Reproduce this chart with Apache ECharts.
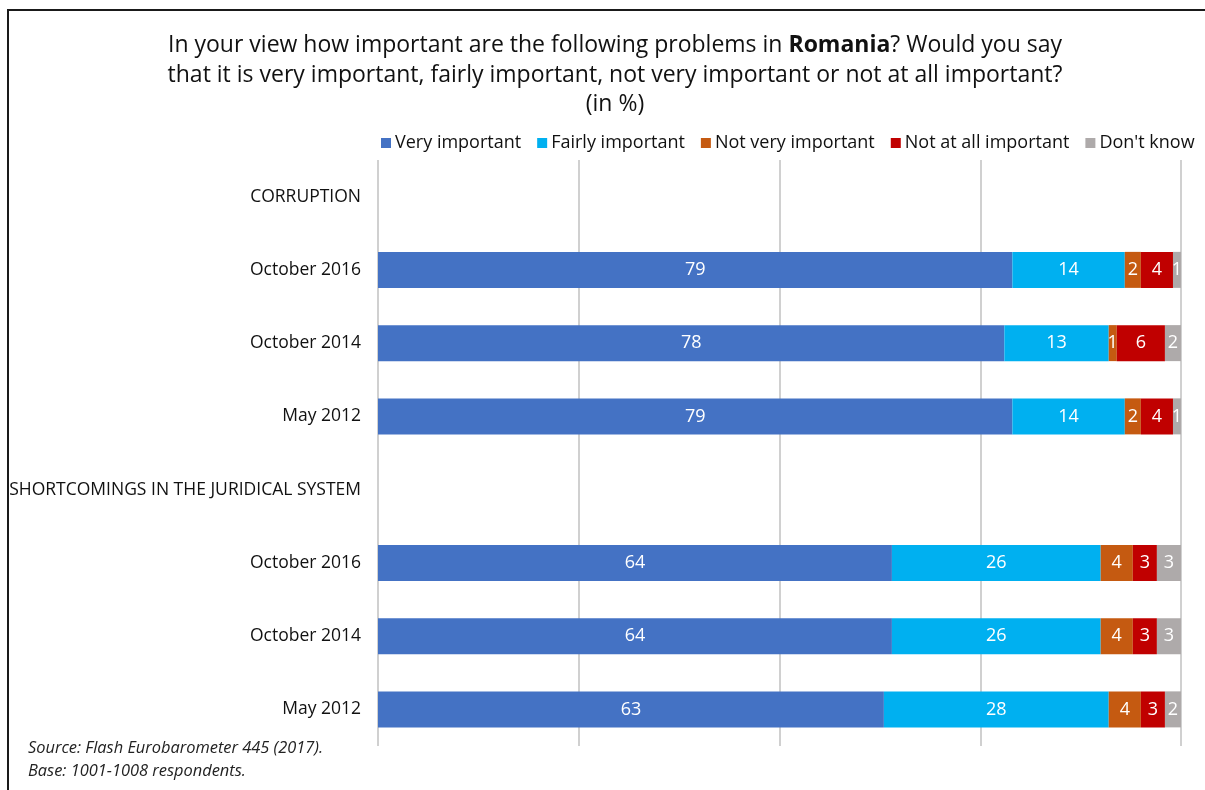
<!DOCTYPE html>
<html>
<head>
<meta charset="utf-8">
<script src="https://cdn.jsdelivr.net/npm/echarts@6/dist/echarts.min.js"></script>
<style>
  html, body { margin: 0; padding: 0; background: #fff; }
  #chart { width: 1205px; height: 790px; }
</style>
</head>
<body>
<div id="chart"></div>
<script>
// Row labels, top to bottom (section headers have no bar)
const categories = [
  'CORRUPTION', 'October 2016', 'October 2014', 'May 2012',
  'SHORTCOMINGS IN THE JURIDICAL SYSTEM', 'October 2016', 'October 2014', 'May 2012'
];
const seriesNames = ['Very important', 'Fairly important', 'Not very important', 'Not at all important', "Don't know"];
const veryImportant     = ['-', 79, 78, 79, '-', 64, 64, 63];
const fairlyImportant   = ['-', 14, 13, 14, '-', 26, 26, 28];
const notVeryImportant  = ['-', 2, 1, 2, '-', 4, 4, 4];
const notAtAllImportant = ['-', 4, 6, 4, '-', 3, 3, 3];
const dontKnow          = ['-', 1, 2, 1, '-', 3, 3, 2];
const axisTicks = [0, 25, 50, 75, 100];

const colors = ['#4472C4', '#00B0F0', '#C55A11', '#C00000', '#AEAAAA'];
const values = [veryImportant, fairlyImportant, notVeryImportant, notAtAllImportant, dontKnow];
const FONT = '"Open Sans", "Noto Sans", sans-serif';

const chart = echarts.init(document.getElementById('chart'), null, { renderer: 'canvas' });

chart.setOption({
  animation: false,
  color: colors,
  title: {
    left: 610,
    top: 26,
    textAlign: 'center',
    text: '{a|In your view how important are the following problems in }{b|Romania}{a|? Would you say}\n' +
          '{a|that it is very important, fairly important, not very important or not at all important?}\n' +
          '{a|(in %)}',
    textStyle: {
      fontWeight: 'normal',
      rich: {
        a: { fontFamily: FONT, fontSize: 23, color: '#111', fontWeight: 'normal', lineHeight: 29.5 },
        b: { fontFamily: FONT, fontSize: 23, color: '#111', fontWeight: 'bold', lineHeight: 29.5 }
      }
    }
  },
  legend: {
    left: 376,
    top: 129,
    width: 1000,
    itemWidth: 10,
    itemHeight: 10,
    itemGap: 16,
    icon: 'rect',
    data: seriesNames,
    textStyle: { fontFamily: FONT, fontSize: 18, color: '#111', padding: [0, 0, 0, -1] }
  },
  grid: { left: 378, right: 24, top: 160, bottom: 44, containLabel: false },
  xAxis: {
    type: 'value',
    min: axisTicks[0],
    max: axisTicks[axisTicks.length - 1],
    interval: axisTicks[1] - axisTicks[0],
    axisLabel: { show: false },
    axisLine: { show: false },
    axisTick: { show: false },
    splitLine: { show: true, lineStyle: { color: '#D0D0D0', width: 2 } }
  },
  yAxis: {
    type: 'category',
    inverse: true,
    data: categories,
    axisLine: { show: false },
    axisTick: { show: false },
    axisLabel: { fontFamily: FONT, fontSize: 17.5, color: '#111', margin: 17 }
  },
  series: values.map((v, i) => ({
    name: seriesNames[i],
    type: 'bar',
    stack: 'total',
    barWidth: 36,
    data: v,
    label: {
      show: true,
      position: 'inside',
      color: '#fff',
      fontFamily: FONT,
      fontSize: 18
    },
    itemStyle: { color: colors[i] }
  })),
  graphic: [
    {
      type: 'polyline',
      shape: { points: [[8, 800], [8, 10], [1210, 10]] },
      style: { stroke: '#1a1a1a', lineWidth: 2, fill: null }
    },
    {
      type: 'text',
      left: 28,
      top: 737,
      style: {
        text: 'Source: Flash Eurobarometer 445 (2017).\nBase: 1001-1008 respondents.',
        fontFamily: FONT,
        fontStyle: 'italic',
        fontSize: 16.4,
        lineHeight: 23,
        fill: '#222'
      }
    }
  ]
});
</script>
</body>
</html>
